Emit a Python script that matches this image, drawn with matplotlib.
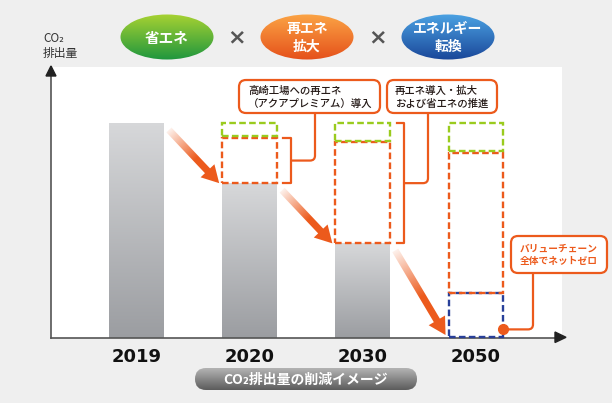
import numpy as np
import matplotlib.pyplot as plt
from matplotlib.patches import Rectangle, FancyBboxPatch, Ellipse, FancyArrow, PathPatch
from matplotlib.path import Path
from matplotlib.colors import to_rgb

plt.rcParams['font.family'] = ['Noto Sans CJK JP', 'DejaVu Sans']

# data (2019 emissions = 100)
years = ['2019', '2020', '2030', '2050']
actual = [100, 72, 44, 0]             # gray bars
renew_top = [None, 93, 91, 86]        # top of renewable-energy box (orange)
saving_top = [None, 100, 100, 100]    # top of energy-saving box (green)
netzero_top = [None, None, None, 21]  # value-chain net zero box (blue)

pill_labels = ['省エネ', '再エネ\n拡大', 'エネルギー\n転換']
pill_colors = [('#a8d232', '#1e963e'), ('#fba445', '#e5501a'), ('#4ba2e3', '#1a4799')]
callout_texts = ['高崎工場への再エネ\n（アクアプレミアム）導入', '再エネ導入・拡大\nおよび省エネの推進']
netzero_text = 'バリューチェーン\n全体でネットゼロ'
ylabel = 'CO₂\n排出量'
footer = 'CO₂排出量の削減イメージ'

ORANGE = '#ec5a1c'
GREEN = '#9acb1e'
BLUE = '#283f99'

W, H = 612, 403
fig = plt.figure(figsize=(W / 100, H / 100), dpi=100)
fig.patch.set_facecolor('#efefef')

ax = fig.add_axes([51 / W, 65 / H, 511 / W, 271 / H])
ax.set_facecolor('white')
XLIM, YLIM = (-0.755, 3.76), (0, 126)
ax.set_xlim(*XLIM)
ax.set_ylim(*YLIM)
ax.set_zorder(1)

ov = fig.add_axes([0, 0, 1, 1])
ov.set_zorder(2)
ov.patch.set_visible(False)
ov.axis('off')


def set_limits():
    ax.set_xlim(*XLIM)
    ax.set_ylim(*YLIM)
    ov.set_xlim(0, W)
    ov.set_ylim(H, 0)
    ov.set_aspect('auto')


set_limits()


def to_px(x, y):
    dx, dy = ax.transData.transform((x, y))
    return dx, H - dy


def grad_fill(axis, patch, extent, c_top, c_bot, zorder):
    t = np.linspace(0, 1, 256)[:, None]
    top, bot = np.array(to_rgb(c_top)), np.array(to_rgb(c_bot))
    img = (top + (bot - top) * t).reshape(256, 1, 3)
    im = axis.imshow(img, extent=extent, origin='upper', aspect='auto',
                     zorder=zorder, interpolation='bilinear')
    im.set_clip_path(patch)


# axes
for s in ['top', 'right']:
    ax.spines[s].set_visible(False)
for s in ['left', 'bottom']:
    ax.spines[s].set_color('#555555')
    ax.spines[s].set_linewidth(1.2)
ax.set_yticks([])
xs = np.arange(len(years))
ax.set_xticks(xs)
ax.set_xticklabels(years, fontfamily='DejaVu Sans', fontweight='bold', fontsize=13, color='#111111')
ax.tick_params(axis='x', length=0, pad=7)

# axis arrowheads
ov.add_patch(plt.Polygon([(555, 332), (555, 342.5), (566, 337.3)], color='#222222', zorder=5))
ov.add_patch(plt.Polygon([(46, 76), (56, 76), (51, 66)], color='#222222', zorder=5))

# gray bars
bw = 0.485
bars = ax.bar(xs, actual, width=bw, color='none', edgecolor='none', zorder=2)
for b, v in zip(bars, actual):
    if v > 0:
        grad_fill(ax, b, (b.get_x(), b.get_x() + bw, 0, v), '#d7d8da', '#9b9da1', 2)

# dashed boxes
dash = (0, (2.8, 1.4))
for i in range(1, len(years)):
    left = xs[i] - bw / 2
    base = netzero_top[i] if netzero_top[i] else actual[i]
    if netzero_top[i]:
        ax.add_patch(Rectangle((left, 0.6), bw, netzero_top[i] - 0.6, fill=False, ec=BLUE,
                               lw=1.7, ls=dash, zorder=3, clip_on=False))
    ax.add_patch(Rectangle((left, base), bw, renew_top[i] - base, fill=False, ec=ORANGE,
                           lw=1.7, ls=dash, zorder=3))
    ax.add_patch(Rectangle((left, renew_top[i] + 0.8), bw, saving_top[i] - renew_top[i] - 0.8,
                           fill=False, ec=GREEN, lw=1.7, ls=dash, zorder=3))

# gradient arrows
yy, xx = np.mgrid[0:H, 0:W] + 0.5


def grad_arrow(p0, p1):
    dx, dy = p1[0] - p0[0], p1[1] - p0[1]
    arr = FancyArrow(p0[0], p0[1], dx, dy, width=7, head_width=19, head_length=17,
                     length_includes_head=True, fc='none', ec='none')
    ov.add_patch(arr)
    t = ((xx - p0[0]) * dx + (yy - p0[1]) * dy) / (dx * dx + dy * dy)
    img = np.zeros((H, W, 4))
    img[..., :3] = to_rgb(ORANGE)
    img[..., 3] = np.clip(0.08 + 1.7 * t, 0, 1)
    im = ov.imshow(img, extent=(0, W, H, 0), origin='upper', zorder=3)
    im.set_clip_path(arr)


for i in range(len(years) - 1):
    sx, sy = to_px(xs[i] + bw / 2, actual[i])
    if actual[i + 1] > 0:
        ex, ey = to_px(xs[i + 1] - bw / 2, actual[i + 1])
    else:
        ex, ey = to_px(xs[i + 1] - bw / 2, 0)
        ey -= 3
    grad_arrow((sx + 5, sy + 7), (ex - 3, ey))


def connector(x0, y0, xc, ytop, r=5):
    verts = [(x0, y0), (xc - r, y0), (xc, y0), (xc, y0 - r), (xc, ytop)]
    codes = [Path.MOVETO, Path.LINETO, Path.CURVE3, Path.CURVE3, Path.LINETO]
    ov.add_patch(PathPatch(Path(verts, codes), fill=False, ec=ORANGE, lw=1.6, zorder=4))


# brackets + callouts
rx, yb = to_px(xs[1] + bw / 2, actual[1])
_, yt = to_px(xs[1], renew_top[1])
ov.plot([rx + 6, rx + 14, rx + 14, rx + 6], [yt, yt, yb, yb], color=ORANGE, lw=1.6, zorder=4)
connector(rx + 14, (yt + yb) / 2, 315, 113)

rx2, yb2 = to_px(xs[2] + bw / 2, actual[2])
_, yt2 = to_px(xs[2], saving_top[2])
ov.plot([rx2 + 7, rx2 + 14, rx2 + 14, rx2 + 7], [yt2, yt2, yb2, yb2], color=ORANGE, lw=1.6, zorder=4)
connector(rx2 + 14, (yt2 + yb2) / 2, 428, 113)

for (x0, x1), txt, tx in zip([(239, 380), (387, 497)], callout_texts, [248, 395]):
    ov.add_patch(FancyBboxPatch((x0, 80), x1 - x0, 33, boxstyle='round,pad=0,rounding_size=7',
                                fc='white', ec=ORANGE, lw=1.6, zorder=5))
    ov.text(tx, 97.5, txt, ha='left', va='center', fontsize=7.5, fontweight='medium',
            color='#231815', linespacing=1.4, zorder=6)

# net zero marker
dx_, dy_ = to_px(xs[3] + bw / 2, 4)
connector(dx_, dy_, 533, 273)
ov.plot(dx_, dy_, 'o', ms=7, color=ORANGE, zorder=6)
ov.add_patch(FancyBboxPatch((511, 236), 96, 37, boxstyle='round,pad=0,rounding_size=7',
                            fc='white', ec=ORANGE, lw=1.6, zorder=5))
ov.text(559, 255, netzero_text, ha='center', va='center', fontsize=7, fontweight='bold',
        color=ORANGE, linespacing=1.35, zorder=6)

# top pills
for cx, lab, (c1, c2), fs in zip([167, 307, 448], pill_labels, pill_colors, [10.5, 10, 10]):
    e = Ellipse((cx, 37), 93, 45, fc='none', ec='none')
    ov.add_patch(e)
    grad_fill(ov, e, (cx - 47, cx + 47, 60, 14), c1, c2, 3)
    ov.text(cx, 38, lab, ha='center', va='center', fontsize=fs, fontweight='bold',
            color='white', linespacing=1.3, zorder=4)
for cx in [237, 378]:
    ov.text(cx, 37, '×', ha='center', va='center', fontsize=16, fontweight='bold',
            color='#555555', fontfamily='DejaVu Sans')

# y label
ov.text(43, 46, ylabel, ha='left', va='center', fontsize=8.5, color='#333333', linespacing=1.25)

# footer pill
fp = FancyBboxPatch((195, 368), 222, 22, boxstyle='round,pad=0,rounding_size=11',
                    fc='none', ec='none')
ov.add_patch(fp)
grad_fill(ov, fp, (195, 417, 390, 368), '#b4b4b4', '#5c5c5c', 3)
ov.text(306, 379.5, footer, ha='center', va='center', fontsize=10, fontweight='bold',
        color='white', zorder=4)

set_limits()
fig.savefig('out.png', dpi=100, facecolor=fig.get_facecolor())
